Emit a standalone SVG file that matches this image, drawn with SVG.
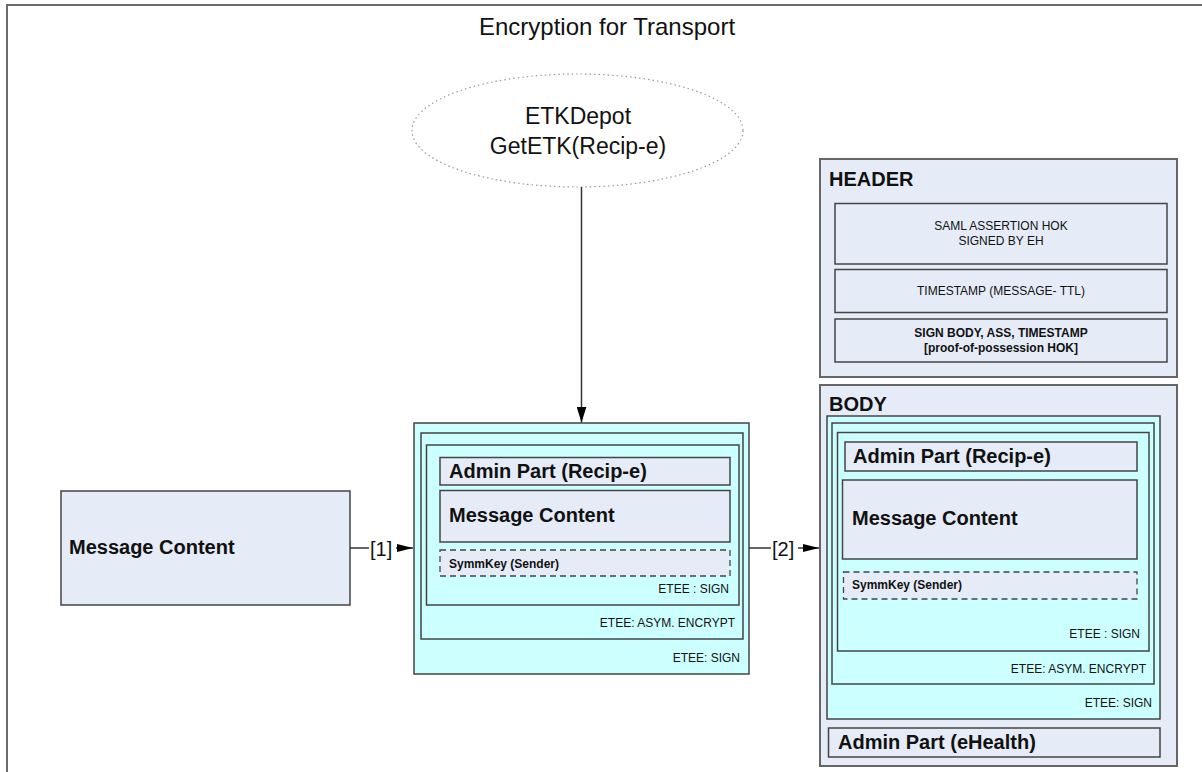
<svg xmlns="http://www.w3.org/2000/svg" width="1202" height="772" viewBox="0 0 1202 772">
<defs>
<style>
.frame{fill:#ffffff;stroke:#6b6b6b;stroke-width:2}
.box{fill:#e6ecf7;stroke:#444;stroke-width:1.5}
.cyan{fill:#ccffff;stroke:#444;stroke-width:1.5}
.dash{fill:#e6ecf7;stroke:#444;stroke-width:1.3;stroke-dasharray:6,4}
.grp{fill:#e6ecf7;stroke:#666;stroke-width:2}
.line{stroke:#333;stroke-width:1.5;fill:none}
text{font-family:"Liberation Sans",Arial,sans-serif;fill:#111}
.big{font-size:20px;font-weight:bold}
.hdr{font-size:20px;font-weight:bold}
.sm{font-size:12px;font-weight:bold}
.lbl{font-size:12px}
.ctr{font-size:12px;text-anchor:middle}
.ctrb{font-size:12px;font-weight:bold;text-anchor:middle}
.title{font-size:24px}
.ell{font-size:23px}
</style>
<marker id="ah" viewBox="0 0 16 10" refX="16" refY="5" markerWidth="16" markerHeight="10" markerUnits="userSpaceOnUse" orient="auto">
<path d="M0,0 L16,5 L0,10 Z" fill="#000"/>
</marker>
<marker id="ahs" viewBox="0 0 16 8" refX="16" refY="4" markerWidth="16" markerHeight="8" markerUnits="userSpaceOnUse" orient="auto">
<path d="M0,0 L16,4 L0,8 Z" fill="#000"/>
</marker>
</defs>
<rect x="0" y="0" width="1202" height="772" fill="#ffffff"/>
<rect class="frame" x="7" y="5" width="1210" height="780"/>
<text class="title" x="607" y="35" text-anchor="middle">Encryption for Transport</text>

<g id="etkdepot">
<ellipse cx="577.5" cy="130.5" rx="165.5" ry="56.5" fill="#ffffff" stroke="#999" stroke-width="1.2" stroke-dasharray="1.5,3"/>
<text class="ell" x="578" y="124" text-anchor="middle">ETKDepot</text>
<text class="ell" x="578" y="154" text-anchor="middle">GetETK(Recip-e)</text>
</g>

<g id="message-content">
<rect class="box" x="61" y="491" width="289" height="114"/>
<text class="big" x="69" y="554">Message Content</text>
</g>

<g id="encrypted-message">
<rect class="cyan" x="414" y="423" width="335" height="251"/>
<rect class="cyan" x="421" y="433" width="322" height="206"/>
<rect class="cyan" x="426.5" y="445" width="312.5" height="160"/>
<rect class="box" x="440" y="457.5" width="290" height="27.5"/>
<text class="big" x="449" y="478">Admin Part (Recip-e)</text>
<rect class="box" x="440" y="490.5" width="290" height="51.5"/>
<text class="big" x="449" y="522">Message Content</text>
<rect class="dash" x="440" y="550" width="290" height="26"/>
<text class="sm" x="449" y="568">SymmKey (Sender)</text>
<text class="lbl" x="729" y="593" text-anchor="end">ETEE : SIGN</text>
<text class="lbl" x="735" y="627" text-anchor="end">ETEE: ASYM. ENCRYPT</text>
<text class="lbl" x="740" y="662" text-anchor="end">ETEE: SIGN</text>
</g>

<g id="header">
<rect class="grp" x="820" y="159" width="357" height="218"/>
<text class="hdr" x="829" y="186">HEADER</text>
<rect class="box" x="835" y="203.5" width="332" height="60.5"/>
<text class="ctr" x="1001" y="230">SAML ASSERTION HOK</text>
<text class="ctr" x="1001" y="245">SIGNED BY EH</text>
<rect class="box" x="835" y="269.5" width="332" height="43"/>
<text class="ctr" x="1001" y="295">TIMESTAMP (MESSAGE- TTL)</text>
<rect class="box" x="835" y="319" width="332" height="43"/>
<text class="ctrb" x="1001" y="337">SIGN BODY, ASS, TIMESTAMP</text>
<text class="ctrb" x="1001" y="352">[proof-of-possession HOK]</text>
</g>

<g id="body">
<rect class="grp" x="820" y="385" width="357" height="381"/>
<text class="hdr" x="829" y="411">BODY</text>
<rect class="cyan" x="827" y="416" width="333" height="303"/>
<rect class="cyan" x="832" y="423" width="322" height="261"/>
<rect class="cyan" x="837.5" y="432.5" width="311.5" height="218.5"/>
<rect class="box" x="845" y="442" width="292" height="29"/>
<text class="big" x="853" y="463">Admin Part (Recip-e)</text>
<rect class="box" x="842.5" y="480" width="294.5" height="79"/>
<text class="big" x="852" y="525">Message Content</text>
<rect class="dash" x="843.5" y="572" width="293.5" height="27"/>
<text class="sm" x="852" y="589">SymmKey (Sender)</text>
<text class="lbl" x="1140" y="638" text-anchor="end">ETEE : SIGN</text>
<text class="lbl" x="1146" y="673" text-anchor="end">ETEE: ASYM. ENCRYPT</text>
<text class="lbl" x="1152" y="707" text-anchor="end">ETEE: SIGN</text>
<rect class="box" x="828.5" y="728" width="331.5" height="29"/>
<text class="big" x="838" y="749">Admin Part (eHealth)</text>
</g>

<g id="connectors">
<line class="line" x1="581.5" y1="187" x2="581.5" y2="422.5" marker-end="url(#ah)"/>
<line class="line" x1="350" y1="548" x2="369" y2="548"/>
<text x="370" y="556" font-size="20px">[1]</text>
<line class="line" x1="396" y1="548" x2="413" y2="548" marker-end="url(#ahs)"/>
<line class="line" x1="749" y1="548" x2="771" y2="548"/>
<text x="772" y="556" font-size="20px">[2]</text>
<line class="line" x1="798" y1="548" x2="819" y2="548" marker-end="url(#ahs)"/>
</g>
</svg>
